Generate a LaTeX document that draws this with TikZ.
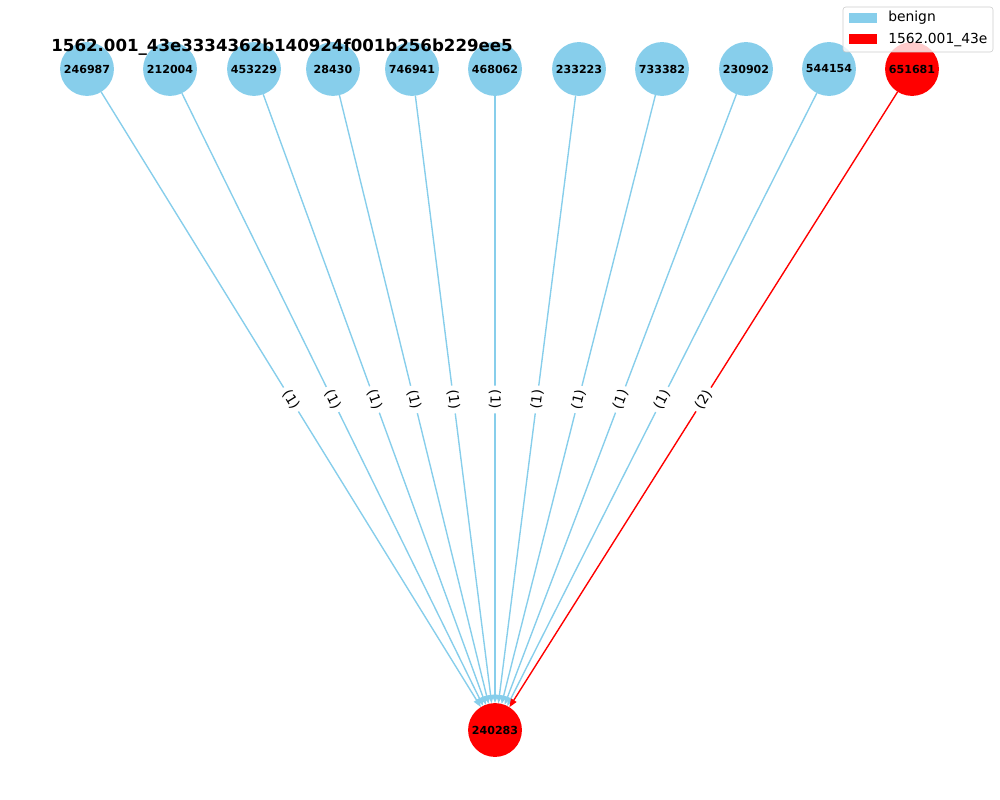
\documentclass[tikz,border=0pt]{standalone}
\usepackage{fontspec}
\setmainfont{DejaVu Sans}
\usepackage{tikz}
\usetikzlibrary{arrows.meta, positioning}
\definecolor{skyblue}{RGB}{135,206,235}
\tikzset{>={Triangle[length=6pt,width=4.5pt]}}

\begin{document}
\begin{tikzpicture}[x=0.01in, y=-0.01in,
    host/.style={circle, minimum size=38.9pt, inner sep=0pt, outer sep=0pt, font=\fontsize{8}{9}\selectfont\bfseries},
    benign/.style={host, fill=skyblue},
    hit/.style={host, fill=red},
    link/.style={->, line width=1pt, draw=skyblue, fill=skyblue},
    redlink/.style={->, line width=1pt, draw=red, fill=red},
    edgelabel/.style={midway, sloped, fill=white, text=black, rounded corners=2pt, inner sep=3pt, font=\fontsize{10}{12}\selectfont}]
            \useasboundingbox (0,0) rectangle (1000,800);

            \node[benign] (A1) at (87,69) {246987};
            \node[benign] (A2) at (170,69) {212004};
            \node[benign] (A3) at (254,69) {453229};
            \node[benign] (A4) at (333,69) {28430};
            \node[benign] (A5) at (412,69) {746941};
            \node[benign] (A6) at (495,69) {468062};
            \node[benign] (A7) at (579,69) {233223};
            \node[benign] (A8) at (662,69) {733382};
            \node[benign] (A9) at (746,69) {230902};
            \node[benign] (A10) at (829,69) {544154};
            \node[hit] (A11) at (912,69) {651681};
            \node[hit] (T) at (495,730) {240283};

            \draw [link] (A1)--node[edgelabel]{(1)}(T);
            \draw [link] (A2)--node[edgelabel]{(1)}(T);
            \draw [link] (A3)--node[edgelabel]{(1)}(T);
            \draw [link] (A4)--node[edgelabel]{(1)}(T);
            \draw [link] (A5)--node[edgelabel]{(1)}(T);
            \draw [link] (A6)--node[edgelabel]{(1)}(T);
            \draw [link] (A7)--node[edgelabel]{(1)}(T);
            \draw [link] (A8)--node[edgelabel]{(1)}(T);
            \draw [link] (A9)--node[edgelabel]{(1)}(T);
            \draw [link] (A10)--node[edgelabel]{(1)}(T);
            \draw [redlink] (A11)--node[edgelabel]{(2)}(T);

            \node[font=\fontsize{12}{14}\selectfont\bfseries] (title) at (282,47) {1562.001\_43e3334362b140924f001b256b229ee5};

            % legend
            \draw[draw=black!20, fill=white, fill opacity=0.8, rounded corners=2pt] (843,7) rectangle (993,52);
            \fill[skyblue] (849,13) rectangle (877,23);
            \fill[red] (849,34) rectangle (877,44);
            \node[anchor=west, inner sep=0pt, font=\fontsize{10}{12}\selectfont] (L1) at (888,18) {benign};
            \node[anchor=west, inner sep=0pt, font=\fontsize{10}{12}\selectfont] (L2) at (888,40) {1562.001\_43e};
\end{tikzpicture}
\end{document}
